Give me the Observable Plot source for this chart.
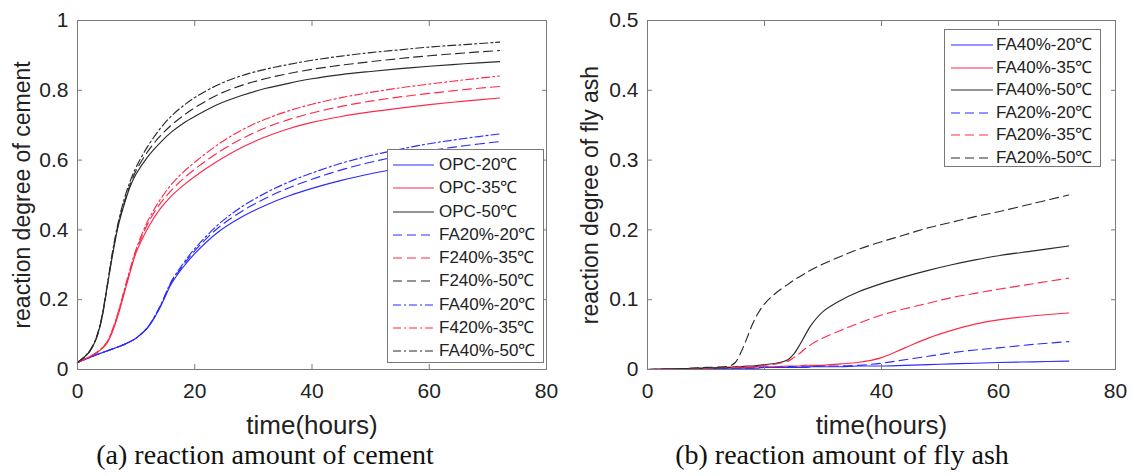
<!DOCTYPE html>
<html><head><meta charset="utf-8">
<script src="https://cdn.jsdelivr.net/npm/d3@7"></script>
<script src="https://cdn.jsdelivr.net/npm/@observablehq/plot@0.6"></script>
<style>
body{margin:0;background:#fff;}
#wrap{position:relative;width:1134px;height:476px;overflow:hidden;background:#fff;font-family:"Liberation Sans",Arial,sans-serif;}
.panel{position:absolute;top:0;}
.caption{position:absolute;font-family:"Liberation Serif","Times New Roman",serif;font-size:28px;line-height:32px;color:#111;white-space:nowrap;transform:translateX(-50%);}
.legend{position:absolute;background:#fff;border:1px solid #777;box-sizing:border-box;}
.legend .lab{position:absolute;font-size:17px;line-height:20px;color:#222;white-space:nowrap;}
</style>
</head><body>
<div id="wrap">
  <div class="panel" id="pa" style="left:0"></div>
  <div class="panel" id="pb" style="left:567px"></div>
  <div class="caption" style="left:265px;top:439px">(a) reaction amount of cement</div>
  <div class="caption" style="left:842px;top:439px">(b) reaction amount of fly ash</div>
</div>
<script>
// ---------- (a) reaction degree of cement ----------
const timeA = [0,1,2,3,4,5,6,7,8,9,10,12,14,16,18,20,24,28,32,36,40,45,50,55,60,66,72];
const opc20   = [0.02,0.027,0.034,0.041,0.047,0.053,0.059,0.065,0.072,0.08,0.09,0.12,0.175,0.245,0.293,0.332,0.394,0.437,0.47,0.497,0.519,0.542,0.561,0.577,0.592,0.607,0.62];
const opc35   = [0.02,0.028,0.036,0.045,0.057,0.075,0.11,0.16,0.22,0.28,0.335,0.405,0.458,0.497,0.527,0.553,0.598,0.636,0.666,0.69,0.708,0.725,0.738,0.749,0.759,0.769,0.778];
const opc50   = [0.02,0.033,0.05,0.08,0.135,0.23,0.33,0.415,0.475,0.525,0.56,0.61,0.648,0.68,0.705,0.725,0.76,0.785,0.805,0.82,0.833,0.845,0.854,0.862,0.869,0.876,0.882];
const fa20_20 = [0.02,0.027,0.034,0.041,0.047,0.053,0.059,0.065,0.072,0.08,0.09,0.121,0.177,0.249,0.298,0.34,0.406,0.453,0.49,0.52,0.545,0.572,0.594,0.612,0.627,0.641,0.653];
const f240_35 = [0.02,0.028,0.036,0.045,0.058,0.077,0.113,0.165,0.225,0.285,0.34,0.418,0.473,0.513,0.546,0.574,0.622,0.661,0.692,0.716,0.735,0.754,0.769,0.781,0.791,0.802,0.811];
const f240_50 = [0.02,0.033,0.05,0.08,0.135,0.23,0.335,0.42,0.48,0.53,0.57,0.625,0.667,0.70,0.727,0.75,0.788,0.814,0.833,0.848,0.86,0.872,0.882,0.891,0.899,0.907,0.914];
const fa40_20 = [0.02,0.027,0.034,0.041,0.047,0.053,0.059,0.065,0.072,0.08,0.09,0.122,0.179,0.252,0.303,0.346,0.415,0.466,0.505,0.537,0.563,0.591,0.613,0.631,0.647,0.662,0.675];
const f420_35 = [0.02,0.028,0.036,0.046,0.059,0.078,0.116,0.168,0.23,0.29,0.345,0.426,0.484,0.53,0.565,0.594,0.645,0.686,0.717,0.741,0.76,0.779,0.794,0.807,0.818,0.83,0.841];
const fa40_50 = [0.02,0.034,0.052,0.083,0.14,0.235,0.34,0.425,0.49,0.54,0.58,0.64,0.688,0.726,0.755,0.779,0.816,0.842,0.86,0.874,0.886,0.898,0.908,0.916,0.924,0.931,0.938];
const namesA = ["OPC-20℃","OPC-35℃","OPC-50℃","FA20%-20℃","F240%-35℃","F240%-50℃","FA40%-20℃","F420%-35℃","FA40%-50℃"];
const xTicks = [0,20,40,60,80];
const yTicksA = [0,0.2,0.4,0.6,0.8,1];

// ---------- (b) reaction degree of fly ash ----------
const timeB = [0,5,10,14,15,16,17,18,19,20,22,24,25,26,27,28,30,33,36,40,44,48,52,56,60,66,72];
const b_fa40_20 = [0,0.001,0.001,0.002,0.002,0.002,0.002,0.002,0.002,0.003,0.003,0.003,0.003,0.003,0.003,0.004,0.004,0.004,0.005,0.005,0.006,0.007,0.008,0.009,0.01,0.011,0.012];
const b_fa40_35 = [0,0.001,0.002,0.003,0.003,0.003,0.003,0.004,0.004,0.004,0.004,0.005,0.005,0.005,0.006,0.006,0.006,0.008,0.01,0.017,0.031,0.045,0.056,0.065,0.071,0.077,0.081];
const b_fa40_50 = [0,0.001,0.002,0.003,0.004,0.004,0.005,0.005,0.006,0.007,0.009,0.014,0.022,0.035,0.05,0.064,0.083,0.099,0.111,0.123,0.133,0.142,0.15,0.157,0.163,0.17,0.177];
const b_fa20_20 = [0,0.001,0.001,0.002,0.002,0.002,0.002,0.002,0.003,0.003,0.003,0.004,0.004,0.004,0.004,0.004,0.005,0.005,0.006,0.009,0.014,0.019,0.024,0.028,0.031,0.036,0.04];
const b_fa20_35 = [0,0.001,0.002,0.003,0.003,0.004,0.004,0.004,0.005,0.006,0.008,0.012,0.017,0.023,0.03,0.036,0.045,0.056,0.066,0.078,0.087,0.095,0.103,0.109,0.115,0.123,0.131];
const b_fa20_50 = [0,0.001,0.003,0.005,0.01,0.025,0.045,0.066,0.082,0.094,0.11,0.122,0.128,0.133,0.138,0.143,0.151,0.162,0.172,0.183,0.193,0.203,0.211,0.219,0.226,0.238,0.25];
const namesB = ["FA40%-20℃","FA40%-35℃","FA40%-50℃","FA20%-20℃","FA20%-35℃","FA20%-50℃"];
const yTicksB = [0,0.1,0.2,0.3,0.4,0.5];

// ---------- styles ----------
const BLUE = "#2b2bff", RED = "#ff2a4a", BLACK = "#2a2a2a";
const SOLID = null, DASH = "9,5", DASHDOT = "8,3,2,3";
const seriesA = [
  {name: namesA[0], values: opc20,   color: BLUE,  dash: SOLID},
  {name: namesA[1], values: opc35,   color: RED,   dash: SOLID},
  {name: namesA[2], values: opc50,   color: BLACK, dash: SOLID},
  {name: namesA[3], values: fa20_20, color: BLUE,  dash: DASH},
  {name: namesA[4], values: f240_35, color: RED,   dash: DASH},
  {name: namesA[5], values: f240_50, color: BLACK, dash: DASH},
  {name: namesA[6], values: fa40_20, color: BLUE,  dash: DASHDOT},
  {name: namesA[7], values: f420_35, color: RED,   dash: DASHDOT},
  {name: namesA[8], values: fa40_50, color: BLACK, dash: DASHDOT}
];
const seriesB = [
  {name: namesB[0], values: b_fa40_20, color: BLUE,  dash: SOLID},
  {name: namesB[1], values: b_fa40_35, color: RED,   dash: SOLID},
  {name: namesB[2], values: b_fa40_50, color: BLACK, dash: SOLID},
  {name: namesB[3], values: b_fa20_20, color: BLUE,  dash: DASH},
  {name: namesB[4], values: b_fa20_35, color: RED,   dash: DASH},
  {name: namesB[5], values: b_fa20_50, color: BLACK, dash: DASH}
];

const FRAME = "#7a7a7a";
function chart({times, series, yDomain, yTicks, yLabel, marginLeft, marginRight, ylabDx}) {
  return Plot.plot({
    width: 567, height: 440,
    marginLeft, marginRight, marginTop: 20, marginBottom: 71,
    style: {fontFamily: '"Liberation Sans", Arial, sans-serif', background: "transparent", color: "#222", overflow: "visible"},
    x: {domain: [0, 80]},
    y: {domain: yDomain},
    marks: [
      ...series.map(s => Plot.line(times.map((t, i) => ({t, v: s.values[i]})), {
        x: "t", y: "v", stroke: s.color, strokeWidth: 1.15,
        strokeDasharray: s.dash, curve: "catmull-rom"
      })),
      Plot.frame({stroke: FRAME}),
      Plot.axisX({ticks: xTicks, tickSize: -5, tickPadding: 19, fontSize: 21, stroke: FRAME, fill: "#222", label: null, tickFormat: d => String(d)}),
      Plot.axisX({anchor: "top", ticks: xTicks, tickSize: -5, stroke: FRAME, label: null, tickFormat: () => ""}),
      Plot.axisY({ticks: yTicks, tickSize: -5, tickPadding: 14, fontSize: 21, stroke: FRAME, fill: "#222", label: null, tickFormat: d => String(d)}),
      Plot.axisY({anchor: "right", ticks: yTicks, tickSize: -5, stroke: FRAME, label: null, tickFormat: () => ""}),
      Plot.text(["time(hours)"], {frameAnchor: "bottom", dy: 56, fontSize: 26, fill: "#222", textAnchor: "middle", lineAnchor: "middle"}),
      Plot.text([yLabel], {frameAnchor: "left", dx: ylabDx, rotate: -90, fontSize: 23, fill: "#222", textAnchor: "middle", lineAnchor: "middle"})
    ]
  });
}

document.getElementById("pa").appendChild(chart({
  times: timeA, series: seriesA, yDomain: [0, 1], yTicks: yTicksA,
  yLabel: "reaction degree of cement", marginLeft: 77, marginRight: 21, ylabDx: -55
}));
document.getElementById("pb").appendChild(chart({
  times: timeB, series: seriesB, yDomain: [0, 0.5], yTicks: yTicksB,
  yLabel: "reaction degree of fly ash", marginLeft: 80, marginRight: 19, ylabDx: -57
}));

function legend(series, box) {
  const div = document.createElement("div");
  div.className = "legend";
  Object.assign(div.style, {left: box.left + "px", top: box.top + "px", width: box.width + "px", height: box.height + "px"});
  series.forEach((s, i) => {
    const cy = box.first + i * box.step;
    const svg = d3.create("svg").attr("width", box.lineW).attr("height", 6)
      .style("position", "absolute").style("left", box.lineX + "px").style("top", (cy - 3) + "px");
    svg.append("line").attr("x1", 0).attr("x2", box.lineW).attr("y1", 3).attr("y2", 3)
      .attr("stroke", s.color).attr("stroke-width", 1.15).attr("stroke-dasharray", s.dash);
    div.appendChild(svg.node());
    const t = document.createElement("div");
    t.className = "lab";
    t.textContent = s.name;
    t.style.left = box.textX + "px";
    t.style.top = (cy - 10) + "px";
    div.appendChild(t);
  });
  document.getElementById("wrap").appendChild(div);
}
legend(seriesA, {left: 387, top: 149, width: 157, height: 214, first: 15, step: 23.25, lineX: 5, lineW: 41, textX: 51});
legend(seriesB, {left: 944, top: 29, width: 157, height: 138, first: 15, step: 22.5, lineX: 6, lineW: 42, textX: 51});
</script>
</body></html>
